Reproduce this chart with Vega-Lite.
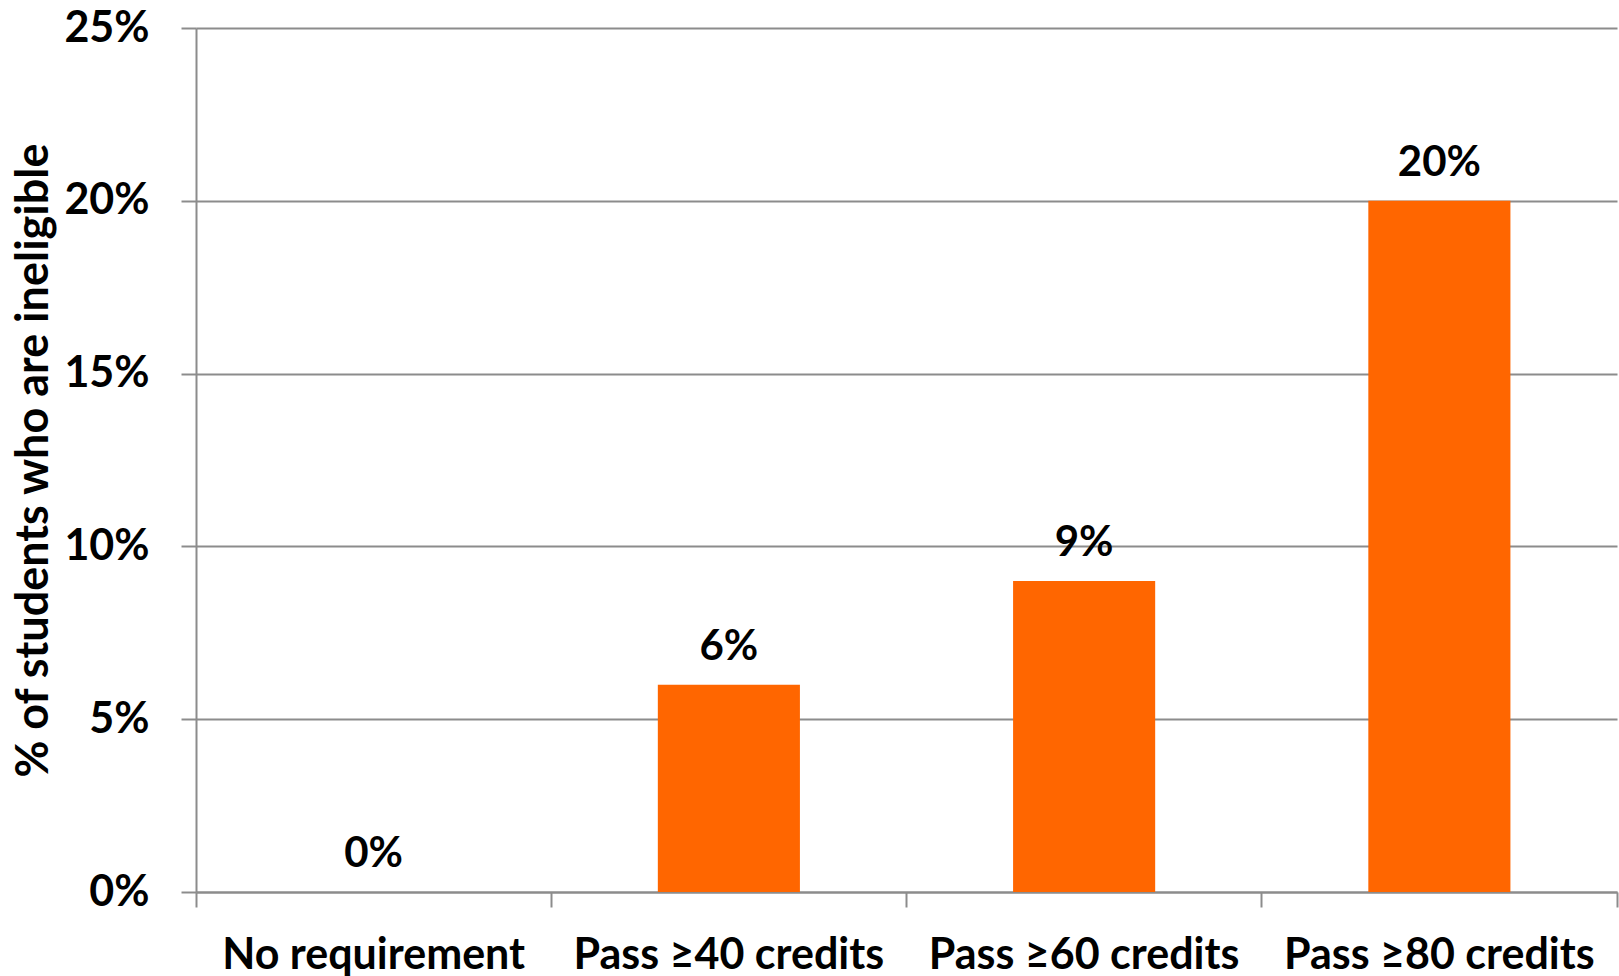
{
  "$schema": "https://vega.github.io/schema/vega-lite/v6.json",
  "width": 1421,
  "height": 864,
  "autosize": {"type": "none"},
  "padding": {"left": 196, "top": 28, "right": 2, "bottom": 84},
  "background": "white",
  "config": {
    "view": {"stroke": null},
    "font": "Lato",
    "axis": {
      "labelFont": "Lato",
      "labelFontWeight": "bold",
      "labelFontSize": 43,
      "labelColor": "black",
      "labelLimit": 0,
      "titleFont": "Lato",
      "titleFontWeight": "bold",
      "titleFontSize": 45,
      "titleColor": "black",
      "domainColor": "#8c8c8c",
      "domainWidth": 2,
      "tickColor": "#8c8c8c",
      "tickWidth": 2,
      "tickSize": 15,
      "gridColor": "#8c8c8c",
      "gridWidth": 2
    }
  },
  "data": {
    "values": [
      {"category": "No requirement", "value": 0},
      {"category": "Pass ≥40 credits", "value": 0.06},
      {"category": "Pass ≥60 credits", "value": 0.09},
      {"category": "Pass ≥80 credits", "value": 0.20}
    ]
  },
  "encoding": {
    "x": {
      "field": "category",
      "type": "nominal",
      "sort": null,
      "scale": {"paddingInner": 0, "paddingOuter": 0},
      "axis": {
        "title": null,
        "labelAngle": 0,
        "labelPadding": 27,
        "bandPosition": 1,
        "tickExtra": true,
        "grid": false
      }
    },
    "y": {
      "field": "value",
      "type": "quantitative",
      "scale": {"domain": [0, 0.25], "nice": false},
      "axis": {
        "title": "% of students who are ineligible",
        "format": ".0%",
        "values": [0, 0.05, 0.1, 0.15, 0.2, 0.25],
        "labelPadding": 32,
        "grid": true,
        "titleAngle": -90,
        "titleX": -163,
        "titleY": 432,
        "titleAlign": "center",
        "titleBaseline": "middle"
      }
    }
  },
  "layer": [
    {"mark": {"type": "bar", "color": "#FF6600", "width": {"band": 0.4}}},
    {
      "mark": {"type": "text", "font": "Lato", "fontWeight": "bold", "fontSize": 42, "baseline": "alphabetic", "dy": -25, "color": "black"},
      "encoding": {"text": {"field": "value", "format": ".0%"}}
    }
  ]
}
